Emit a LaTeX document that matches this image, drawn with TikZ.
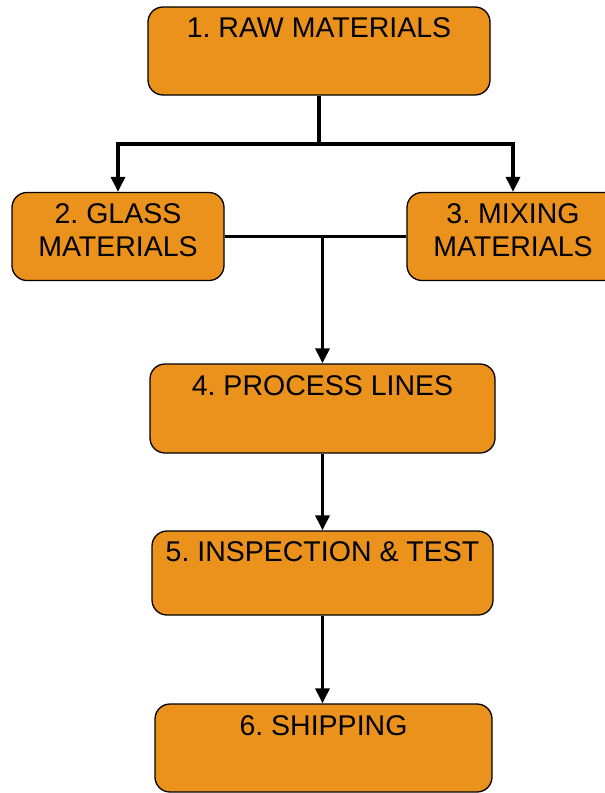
\documentclass[tikz,border=0pt]{standalone}
\usepackage{fontspec}
\setmainfont{Liberation Sans}
\frenchspacing
\usetikzlibrary{arrows.meta}
\definecolor{boxorange}{RGB}{234,146,28}
\begin{document}
\begin{tikzpicture}[x=1pt,y=-1pt,>={Triangle[width=14pt,length=15pt]},line join=miter,
	stage/.style={draw=black,line width=1.3pt,fill=boxorange,rounded corners=15pt,inner sep=0pt,minimum height=88pt},
	caption/.style={anchor=base,inner sep=0pt,align=center,font=\fontsize{28.5}{33}\selectfont},
	link/.style={line width=3.2pt}]
	\clip (0,0) rectangle (605,793);
	% boxes
	\node[stage,minimum width=342pt] (raw) at (319,51) {};
	\node[stage,minimum width=212pt] (glass) at (118,236.5) {};
	\node[stage,minimum width=212pt] (mixing) at (513,236.5) {};
	\node[stage,minimum width=345pt,minimum height=89pt] (process) at (322.5,408.5) {};
	\node[stage,minimum width=341pt,minimum height=84pt] (inspect) at (322.5,573) {};
	\node[stage,minimum width=337pt] (ship) at (323.5,748) {};
	% texts (base of a two-line text is its last line)
	\node[caption] (rawtext) at ([yshift=-31pt]raw.north) {1. RAW MATERIALS};
	\node[caption] (glasstext) at ([yshift=-65pt]glass.north) {2. GLASS\\MATERIALS};
	\node[caption] (mixingtext) at ([yshift=-65pt]mixing.north) {3. MIXING\\MATERIALS};
	\node[caption] (processtext) at ([yshift=-32pt]process.north) {4. PROCESS LINES};
	\node[caption] (inspecttext) at ([yshift=-31pt]inspect.north) {5. INSPECTION \& TEST};
	\node[caption] (shiptext) at ([yshift=-32pt]ship.north) {6. SHIPPING};
	% connectors
	\coordinate (fork) at (319,144);
	\draw[link] (raw.south) -- (fork);
	\draw[link,->] (fork) -| (glass.north);
	\draw[link,->] (fork) -| (mixing.north);
	\coordinate (merge) at (glass.east -| process.north);
	\draw[link] (glass.east) -- (mixing.west);
	\draw[link,->] (merge) -- (process.north);
	\draw[link,->] (process.south) -- (inspect.north);
	\draw[link,->] (inspect.south) -- (inspect.south |- ship.north);
\end{tikzpicture}
\end{document}
